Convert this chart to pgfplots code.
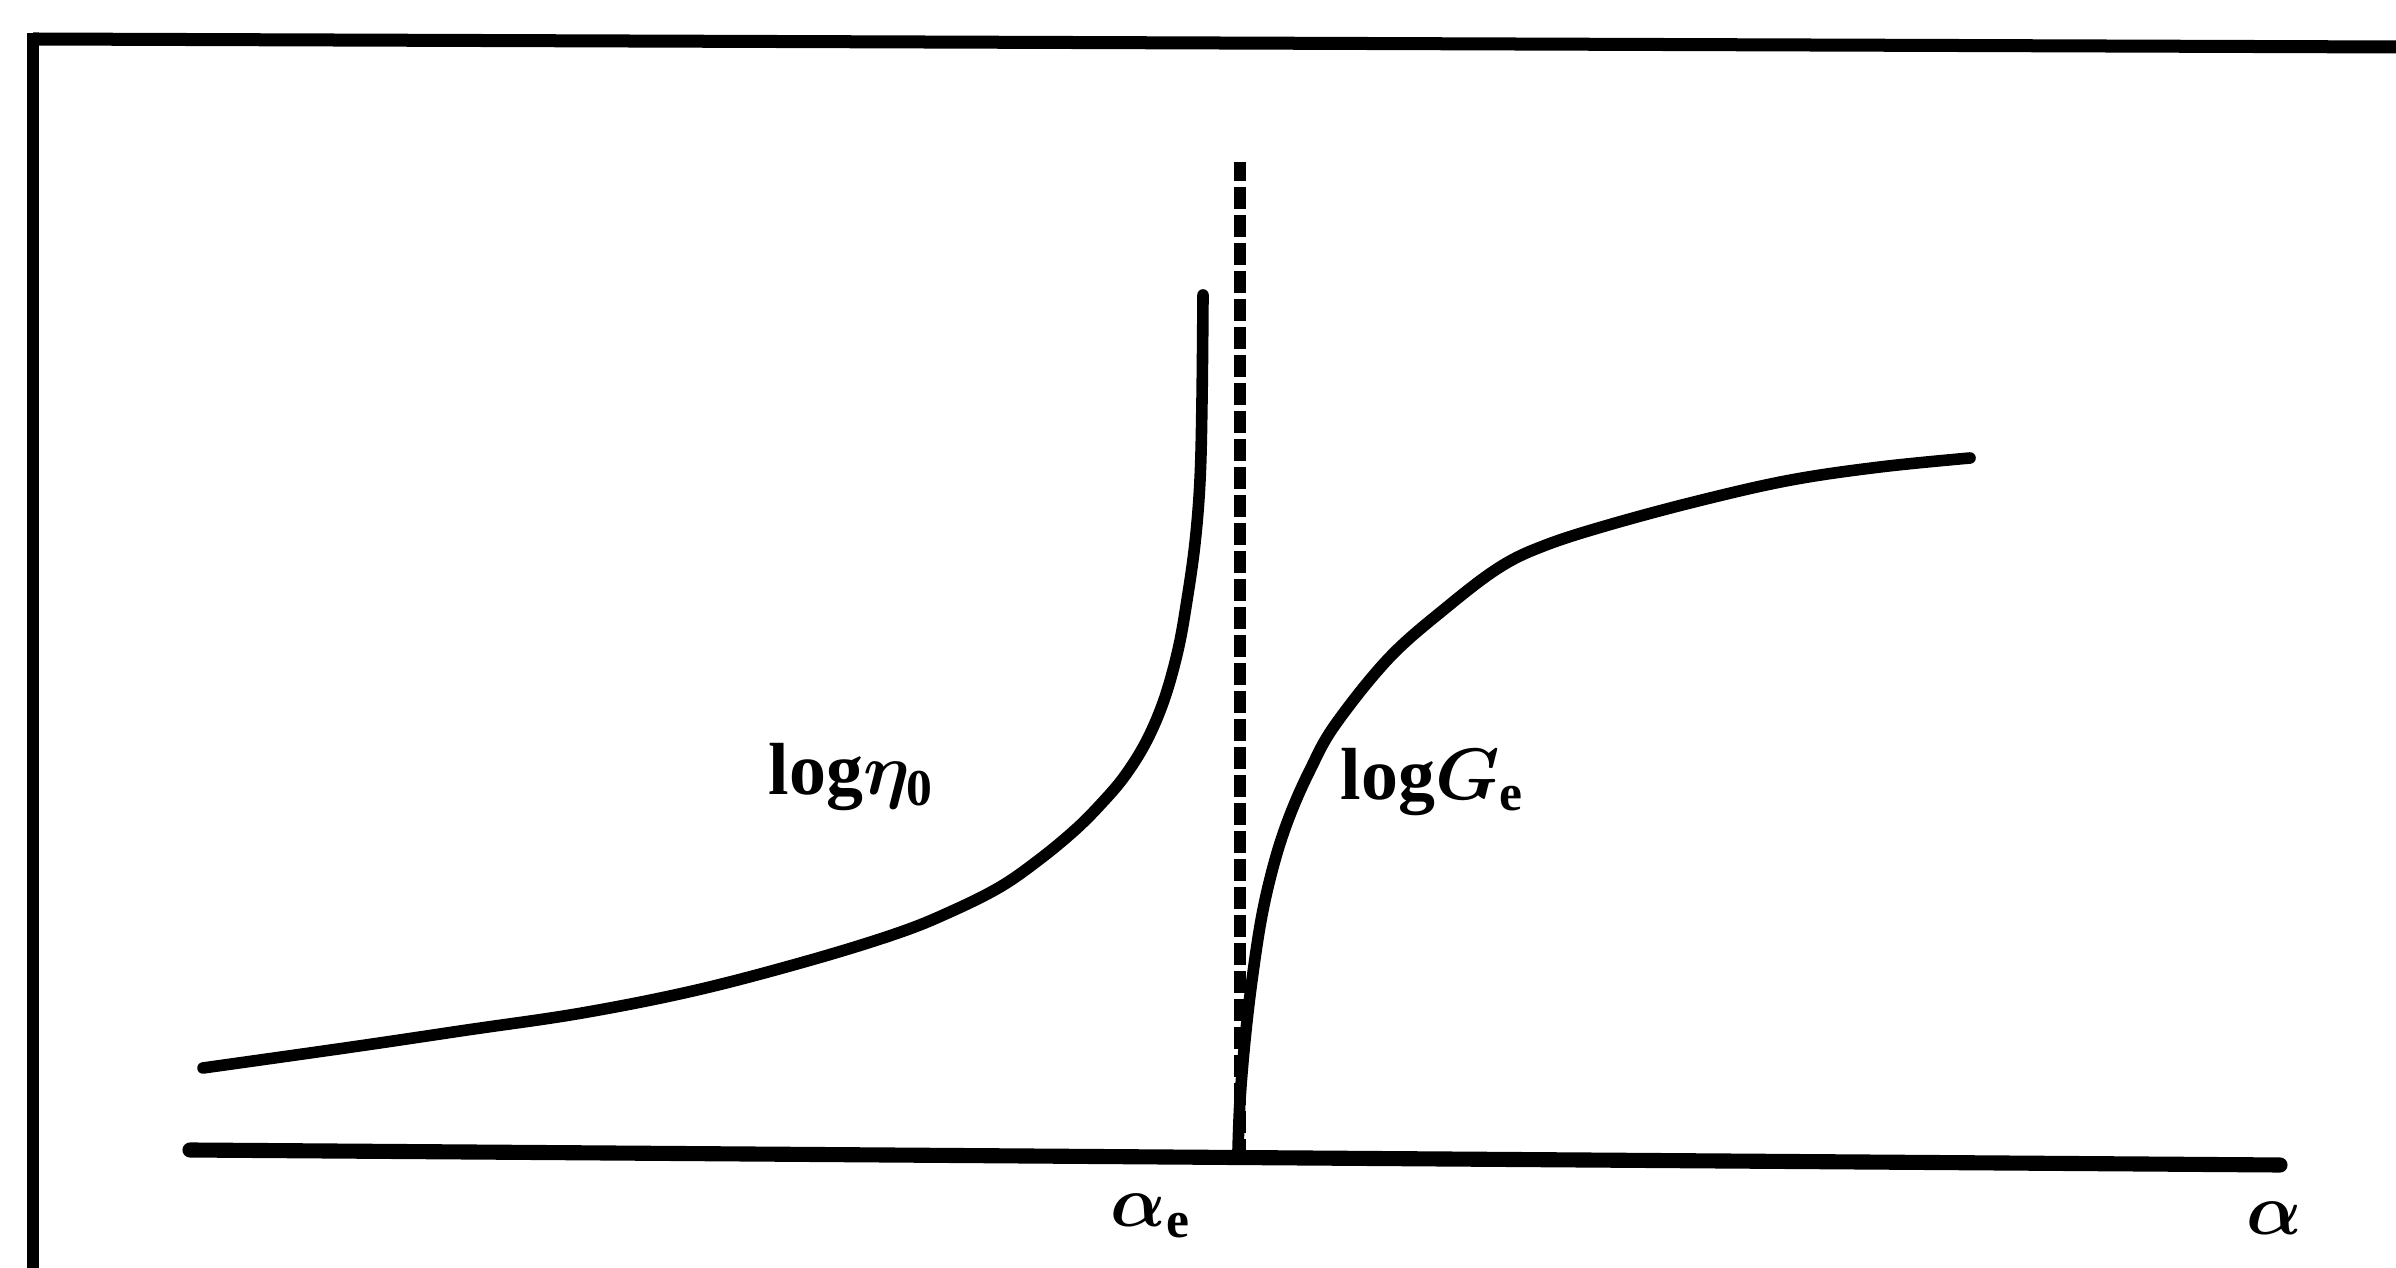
\documentclass[border=0pt]{standalone}
\usepackage{pgfplots}
\pgfplotsset{compat=1.18}
\usepackage{pgfplotstable}
\usepackage{fontspec}
\usepackage{bm}
\setmainfont{Liberation Serif}

% Curve data: x in drawing units, y measured upward
\pgfplotstableread{
x y
203 199
352 220
467 237
582 254
697 277
811 307
898 334
950 355
1000 380
1040 408
1075 437
1100 462
1124 490
1146 525
1164 567
1178 617
1187 667
1195 724
1200 787
1202 867
1203 972
}\etadata
\pgfplotstableread{
x y
1238 117
1240 167
1245 227
1252 287
1262 352
1275 407
1290 452
1310 497
1335 542
1389 609
1447 660
1500 700
1546 722
1612 743
1702 767
1791 787
1880 800
1970 809
}\Gdata

\begin{document}
\begin{tikzpicture}
\path[use as bounding box] (0,0) rectangle (23.96cm,12.67cm);
\begin{axis}[
  at={(0,0)}, anchor=south west,
  scale only axis, width=23.96cm, height=12.67cm,
  xmin=0, xmax=2396, ymin=0, ymax=1267,
  axis lines=none, clip=false,
  every axis plot/.append style={line join=round, line cap=round},
  font=\fontsize{21}{25}\selectfont\bfseries,
]
% frame (top and left)
\draw[line width=3.7pt, line cap=butt] (axis cs:33,1228) -- (axis cs:2396,1220);
\draw[line width=3.5pt, line cap=butt] (axis cs:33,1234) -- (axis cs:33,-10);

% alpha axis
\addplot[black, line width=4.3pt, no marks] coordinates {(190,117) (2280,102)};

% critical alpha
\addplot[black, line width=3.2pt, no marks, line cap=butt,
  dash pattern=on 2.2mm off 0.6mm] coordinates {(1240,106) (1240,1105)};

% log eta_0
\addplot[black, line width=3.3pt, no marks, smooth, tension=0.6] table[x=x,y=y] {\etadata};

% log G_e
\addplot[black, line width=3.3pt, no marks, smooth, tension=0.6] table[x=x,y=y] {\Gdata};

\node[anchor=base west, inner sep=0] at (axis cs:768,472) {log$\bm{\eta}_{\mathbf{0}}$};
\node[anchor=base west, inner sep=0] at (axis cs:1340,467) {log$\bm{G}_{\mathbf{e}}$};
\node[anchor=base west, inner sep=0] at (axis cs:1110,40) {$\bm{\alpha}_{\mathbf{e}}$};
\node[anchor=base west, inner sep=0] at (axis cs:2246,32) {$\bm{\alpha}$};
\end{axis}
\end{tikzpicture}
\end{document}
